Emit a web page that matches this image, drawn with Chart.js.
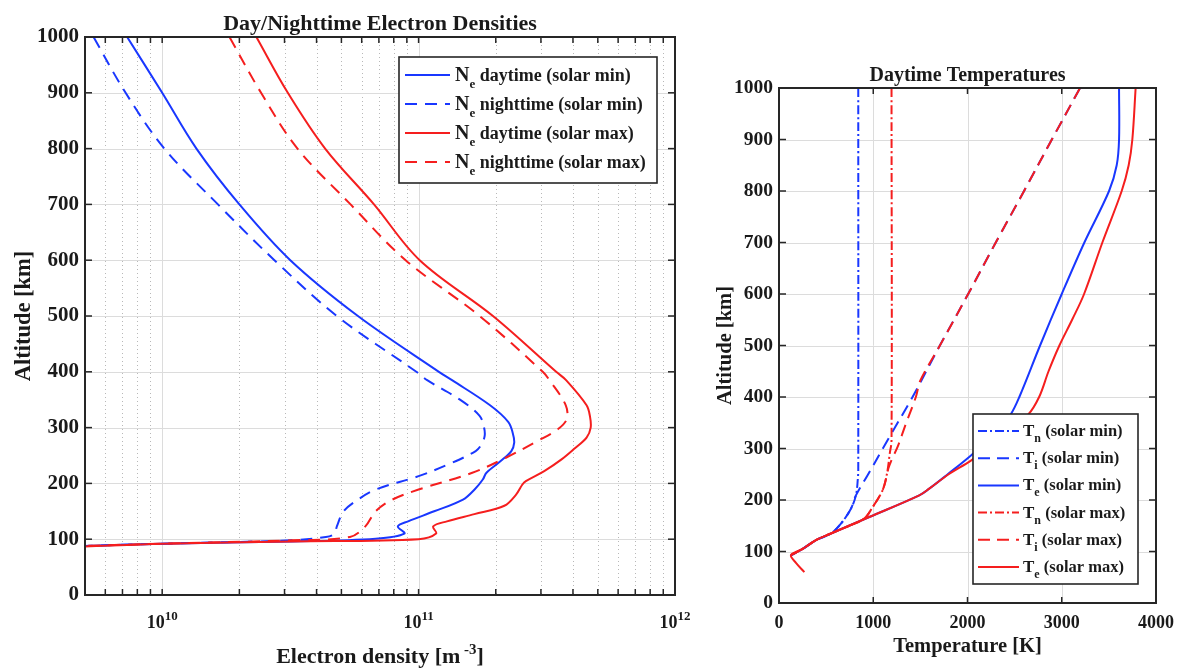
<!DOCTYPE html>
<html>
<head>
<meta charset="utf-8">
<script src="https://cdn.jsdelivr.net/npm/chart.js@4"></script>
<style>
  html, body { margin: 0; padding: 0; background: #fff; }
  #wrapL { position: absolute; left: 0; top: 0; width: 690px; height: 668px; }
  #wrapR { position: absolute; left: 690px; top: 0; width: 487px; height: 668px; }
</style>
</head>
<body>
<div id="wrapL"><canvas id="densityChart"></canvas></div>
<div id="wrapR"><canvas id="tempChart"></canvas></div>
<script>
// ---- left panel: electron density [m^-3] vs altitude [km]
const altDayMin = [1000, 900, 800, 700, 600, 500, 400, 385, 340, 310, 290, 273, 258, 240, 219, 207, 190, 171, 150, 132, 123, 110, 101, 96, 92, 88];
const neDayMin = [7.3e9, 1.0e10, 1.36e10, 2.0e10, 3.16e10, 5.8e10, 1.2e11, 1.35e11, 1.9e11, 2.24e11, 2.33e11, 2.36e11, 2.3e11, 2.09e11, 1.84e11, 1.78e11, 1.66e11, 1.49e11, 1.15e11, 9.1e10, 8.3e10, 8.8e10, 6.8e10, 3.2e10, 1.0e10, 5.0e9];

const altNightMin = [1000, 900, 800, 700, 600, 500, 400, 385, 350, 321, 300, 285, 270, 258, 235, 213, 189, 171, 150, 123, 110, 104, 98, 92, 88];
const neNightMin = [5.4e9, 7.2e9, 1.02e10, 1.65e10, 2.74e10, 4.8e10, 9.8e10, 1.08e11, 1.45e11, 1.73e11, 1.8e11, 1.81e11, 1.76e11, 1.67e11, 1.32e11, 1.0e11, 6.8e10, 5.8e10, 5.1e10, 4.8e10, 4.7e10, 4.35e10, 3.2e10, 1.0e10, 5.0e9];

const altDayMax = [1000, 900, 800, 700, 600, 500, 400, 385, 340, 320, 300, 282, 263, 243, 222, 204, 198, 180, 160, 145, 132, 123, 110, 100, 96, 92, 87];
const neDayMax = [2.33e10, 3.09e10, 4.32e10, 6.7e10, 1.01e11, 1.95e11, 3.44e11, 3.76e11, 4.52e11, 4.66e11, 4.69e11, 4.52e11, 4.07e11, 3.61e11, 3.09e11, 2.62e11, 2.54e11, 2.4e11, 2.16e11, 1.65e11, 1.29e11, 1.14e11, 1.17e11, 1.0e11, 3.2e10, 1.0e10, 5.0e9];

const altNightMax = [1000, 900, 800, 700, 600, 500, 400, 385, 340, 315, 297, 275, 246, 219, 189, 171, 150, 123, 104, 98, 92, 88];
const neNightMax = [1.83e10, 2.43e10, 3.37e10, 5.43e10, 8.9e10, 1.73e11, 3.05e11, 3.24e11, 3.75e11, 3.78e11, 3.49e11, 2.88e11, 2.19e11, 1.62e11, 1.0e11, 7.9e10, 6.8e10, 6.2e10, 5.4e10, 3.2e10, 1.0e10, 5.0e9];

const densMajor = [1e10, 1e11, 1e12];
const densMinor = [6e9, 7e9, 8e9, 9e9, 2e10, 3e10, 4e10, 5e10, 6e10, 7e10, 8e10, 9e10, 2e11, 3e11, 4e11, 5e11, 6e11, 7e11, 8e11, 9e11];
const altTicks = [0, 100, 200, 300, 400, 500, 600, 700, 800, 900, 1000];

// ---- right panel: temperature [K] vs altitude [km]
const altTnMin = [1000, 260, 240, 209, 183, 154, 135, 122, 105, 93];
const tnMin = [841, 841, 836, 816, 763, 657, 551, 392, 251, 127];

const altTiMin = [1000, 900, 800, 700, 600, 500, 400, 322, 248, 209, 183, 154, 135, 122, 105, 93];
const tiMin = [3194, 2895, 2600, 2300, 2007, 1707, 1417, 1170, 940, 816, 763, 657, 551, 392, 251, 127];

const altTeMin = [1000, 900, 850, 800, 700, 600, 500, 400, 365, 330, 287, 250, 222, 209, 167, 135, 122, 105, 93];
const teMin = [3608, 3608, 3583, 3502, 3240, 3000, 2770, 2550, 2455, 2300, 2040, 1790, 1594, 1488, 958, 551, 392, 251, 127];

const altTnMax = [1000, 316, 290, 258, 230, 212, 186, 164, 150, 135, 122, 105, 93];
const tnMax = [1194, 1194, 1175, 1152, 1120, 1081, 993, 905, 745, 551, 392, 251, 127];

const altTiMax = [1000, 900, 800, 700, 600, 500, 432, 400, 350, 303, 280, 261, 230, 212, 186, 164, 150, 135, 122, 105, 93];
const tiMax = [3194, 2895, 2600, 2300, 2007, 1707, 1500, 1452, 1350, 1258, 1200, 1160, 1120, 1081, 993, 905, 745, 551, 392, 251, 127];

const altTeMax = [1000, 900, 850, 800, 700, 600, 550, 500, 450, 400, 365, 320, 277, 250, 222, 209, 167, 135, 122, 105, 93, 78, 60];
const teMax = [3784, 3749, 3710, 3636, 3431, 3237, 3110, 2975, 2860, 2760, 2640, 2350, 2040, 1800, 1594, 1488, 958, 551, 392, 251, 127, 180, 269];

const tempTicks = [0, 1000, 2000, 3000, 4000];

const blue = 'rgb(25,55,255)';
const red = 'rgb(245,30,30)';
const ink = '#1a1a1a';
const serif = '"Liberation Serif", "Times New Roman", serif';

function font(size) { return 'bold ' + size + 'px ' + serif; }

// parts: [text, size, dy]
function richText(ctx, parts, x, y, align) {
  let w = 0;
  parts.forEach(p => { ctx.font = font(p[1]); w += ctx.measureText(p[0]).width; });
  let cx = align === 'center' ? x - w / 2 : (align === 'right' ? x - w : x);
  ctx.textAlign = 'left';
  ctx.textBaseline = 'alphabetic';
  ctx.fillStyle = ink;
  parts.forEach(p => {
    ctx.font = font(p[1]);
    ctx.fillText(p[0], cx, y + (p[2] || 0));
    cx += ctx.measureText(p[0]).width;
  });
}

function seg(ctx, x1, y1, x2, y2) {
  ctx.beginPath(); ctx.moveTo(x1, y1); ctx.lineTo(x2, y2); ctx.stroke();
}

function series(label, legend, xs, ys, color, dash, order) {
  return {
    label: label,
    legend: legend,
    data: xs.map((v, i) => ({ x: v, y: ys[i] })),
    borderColor: color,
    borderWidth: 2,
    borderDash: dash,
    pointRadius: 0,
    showLine: true,
    fill: false,
    tension: 0.35,
    order: order,
    clip: 0
  };
}

// grid, box, ticks, labels and legend drawn MATLAB style
function framePlugin(o) {
  return {
    id: 'frame',
    beforeDatasetsDraw(chart) {
      const { ctx, chartArea: a, scales: { x, y } } = chart;
      ctx.save();
      ctx.lineWidth = 1;
      if (o.xMinor) {
        ctx.strokeStyle = '#b8b8b8';
        ctx.setLineDash([1, 3]);
        o.xMinor.forEach(v => { const px = Math.round(x.getPixelForValue(v)) + 0.5; seg(ctx, px, a.top, px, a.bottom); });
        ctx.setLineDash([]);
      }
      ctx.strokeStyle = '#dcdcdc';
      o.xTicks.forEach(v => { const px = Math.round(x.getPixelForValue(v)) + 0.5; seg(ctx, px, a.top, px, a.bottom); });
      o.yTicks.forEach(v => { const py = Math.round(y.getPixelForValue(v)) + 0.5; seg(ctx, a.left, py, a.right, py); });
      ctx.restore();
    },
    afterDatasetsDraw(chart) {
      const { ctx, chartArea: a, scales: { x, y } } = chart;
      ctx.save();
      // tick marks, inward on all four sides
      ctx.strokeStyle = '#262626';
      ctx.lineWidth = 1.5;
      o.xTicks.concat(o.xMinor || []).forEach(v => {
        const px = x.getPixelForValue(v);
        seg(ctx, px, a.bottom, px, a.bottom - 6);
        seg(ctx, px, a.top, px, a.top + 6);
      });
      o.yTicks.forEach(v => {
        const py = y.getPixelForValue(v);
        seg(ctx, a.left, py, a.left + 7, py);
        seg(ctx, a.right, py, a.right - 7, py);
      });
      ctx.lineWidth = 2;
      ctx.strokeRect(a.left, a.top, a.right - a.left, a.bottom - a.top);

      // tick labels
      ctx.fillStyle = ink;
      ctx.font = font(o.yTickSize);
      ctx.textAlign = 'right';
      ctx.textBaseline = 'middle';
      o.yTicks.forEach(v => ctx.fillText(String(v), a.left - 6, y.getPixelForValue(v)));
      o.xTicks.forEach(v => richText(ctx, o.xLabel(v), x.getPixelForValue(v), a.bottom + o.xLabelOff, 'center'));

      // titles
      richText(ctx, o.title, (a.left + a.right) / 2, o.titleY, 'center');
      richText(ctx, o.xTitle, (a.left + a.right) / 2, o.xTitleY, 'center');
      ctx.save();
      ctx.translate(o.yTitleX, (a.top + a.bottom) / 2);
      ctx.rotate(-Math.PI / 2);
      richText(ctx, o.yTitle, 0, 0, 'center');
      ctx.restore();

      // legend
      const L = o.legend;
      ctx.fillStyle = '#fff';
      ctx.fillRect(L.x, L.y, L.w, L.h);
      ctx.strokeStyle = '#262626';
      ctx.lineWidth = 1.6;
      ctx.strokeRect(L.x, L.y, L.w, L.h);
      chart.data.datasets.forEach((ds, i) => {
        const ry = L.row0 + i * L.gap;
        ctx.strokeStyle = ds.borderColor;
        ctx.lineWidth = 2;
        ctx.setLineDash(ds.borderDash || []);
        seg(ctx, L.s0, ry, L.s1, ry);
        ctx.setLineDash([]);
        const p = ds.legend;
        richText(ctx, [[p[0], L.big], [p[1], L.sub, L.subDy], [' ', L.size], [p[2], L.size]], L.tx, ry + L.base, 'left');
      });
      ctx.restore();
    }
  };
}

const dashL = [12, 8];
const dashR = [12, 7];
const dashDot = [9, 3, 2, 3];

new Chart(document.getElementById('densityChart'), {
  type: 'scatter',
  data: {
    datasets: [
      series('Ne daytime (solar min)', ['N', 'e', 'daytime (solar min)'], neDayMin, altDayMin, blue, [], 2),
      series('Ne nighttime (solar min)', ['N', 'e', 'nighttime (solar min)'], neNightMin, altNightMin, blue, dashL, 3),
      series('Ne daytime (solar max)', ['N', 'e', 'daytime (solar max)'], neDayMax, altDayMax, red, [], 0),
      series('Ne nighttime (solar max)', ['N', 'e', 'nighttime (solar max)'], neNightMax, altNightMax, red, dashL, 1)
    ]
  },
  options: {
    responsive: true,
    maintainAspectRatio: false,
    animation: false,
    layout: { padding: { left: 85, right: 15, top: 37, bottom: 73 } },
    plugins: { legend: { display: false }, tooltip: { enabled: false } },
    scales: {
      x: { type: 'logarithmic', min: 5e9, max: 1e12, display: false },
      y: { type: 'linear', min: 0, max: 1000, display: false }
    }
  },
  plugins: [framePlugin({
    xTicks: densMajor, xMinor: densMinor, yTicks: altTicks,
    yTickSize: 21,
    xLabel: v => [['10', 18], [String(Math.round(Math.log10(v))), 13, -8]],
    xLabelOff: 33,
    title: [['Day/Nighttime Electron Densities', 22]], titleY: 30,
    xTitle: [['Electron density [m', 22], [' -3', 15, -9], [']', 22]], xTitleY: 663,
    yTitle: [['Altitude [km]', 22.5]], yTitleX: 30,
    legend: { x: 399, y: 57, w: 258, h: 126, row0: 75, gap: 29, s0: 405, s1: 450, tx: 455, big: 20, size: 18, sub: 13, subDy: 7, base: 6 }
  })]
});

new Chart(document.getElementById('tempChart'), {
  type: 'scatter',
  data: {
    datasets: [
      series('Tn (solar min)', ['T', 'n', '(solar min)'], tnMin, altTnMin, blue, dashDot, 5),
      series('Ti (solar min)', ['T', 'i', '(solar min)'], tiMin, altTiMin, blue, dashR, 4),
      series('Te (solar min)', ['T', 'e', '(solar min)'], teMin, altTeMin, blue, [], 3),
      series('Tn (solar max)', ['T', 'n', '(solar max)'], tnMax, altTnMax, red, dashDot, 2),
      series('Ti (solar max)', ['T', 'i', '(solar max)'], tiMax, altTiMax, red, dashR, 1),
      series('Te (solar max)', ['T', 'e', '(solar max)'], teMax, altTeMax, red, [], 0)
    ]
  },
  options: {
    responsive: true,
    maintainAspectRatio: false,
    animation: false,
    layout: { padding: { left: 89, right: 21, top: 88, bottom: 65 } },
    plugins: { legend: { display: false }, tooltip: { enabled: false } },
    scales: {
      x: { type: 'linear', min: 0, max: 4000, display: false },
      y: { type: 'linear', min: 0, max: 1000, display: false }
    }
  },
  plugins: [framePlugin({
    xTicks: tempTicks, yTicks: altTicks,
    yTickSize: 19.5,
    xLabel: v => [[String(v), 18]],
    xLabelOff: 25,
    title: [['Daytime Temperatures', 20]], titleY: 81,
    xTitle: [['Temperature [K]', 20.5]], xTitleY: 652,
    yTitle: [['Altitude [km]', 20.5]], yTitleX: 41,
    legend: { x: 283, y: 414, w: 165, h: 170, row0: 431, gap: 27.2, s0: 288, s1: 329, tx: 333, big: 17, size: 16.5, sub: 12, subDy: 6, base: 5 }
  })]
});
</script>
</body>
</html>
